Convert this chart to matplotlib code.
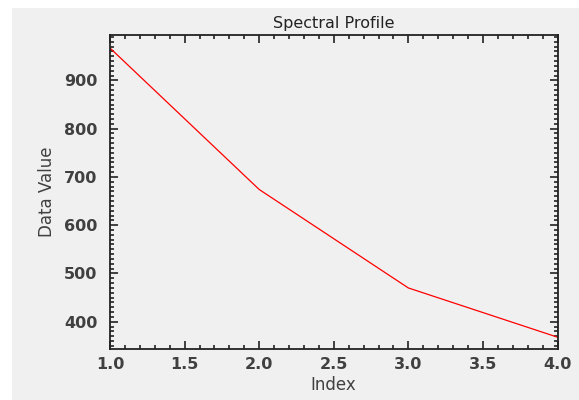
import matplotlib.pyplot as plt
from matplotlib.patches import Rectangle
from matplotlib.ticker import MultipleLocator

# значения спектрального профиля
index = [1, 2, 3, 4]
data_value = [967, 674, 470, 368]

plt.rcParams['font.family'] = ['DejaVu Sans']

fig = plt.figure(figsize=(5.79, 4.0), dpi=100, facecolor='white')
# серая панель как у окна
fig.patches.append(Rectangle((12 / 579, 0), 1, 1 - 8 / 400, transform=fig.transFigure,
                             facecolor='#f0f0f0', edgecolor='none', zorder=-10))

ax = fig.add_axes([110 / 579, 1 - 349 / 400, (557.5 - 110) / 579, (349 - 35) / 400])
ax.set_facecolor('#f0f0f0')
ax.plot(index, data_value, color='#ff0000', lw=0.9)

ax.set_xlim(1.0, 4.0)
ax.set_ylim(343.5, 994)
ax.xaxis.set_major_locator(MultipleLocator(0.5))
ax.xaxis.set_minor_locator(MultipleLocator(0.1))
ax.yaxis.set_major_locator(MultipleLocator(100))
ax.yaxis.set_minor_locator(MultipleLocator(10))
ax.tick_params(which='both', direction='in', top=True, right=True, colors='#222222',
               labelcolor='#404040', labelsize=11.5, width=1.2)
ax.tick_params(which='major', length=6)
ax.tick_params(which='minor', length=3)
ax.tick_params(axis='y', which='major', pad=9)
ax.tick_params(axis='x', which='major', pad=6)
for lbl in ax.get_xticklabels() + ax.get_yticklabels():
    lbl.set_fontweight('bold')
for s in ax.spines.values():
    s.set_linewidth(1.3)
    s.set_color('#222222')

ax.set_title('Spectral Profile', fontsize=11.5, color='#222222', pad=5)
ax.set_xlabel('Index', fontsize=12, color='#404040', labelpad=3)
ax.set_ylabel('Data Value', fontsize=12, color='#404040', labelpad=6)

fig.savefig('out.png', dpi=100, facecolor=fig.get_facecolor())
